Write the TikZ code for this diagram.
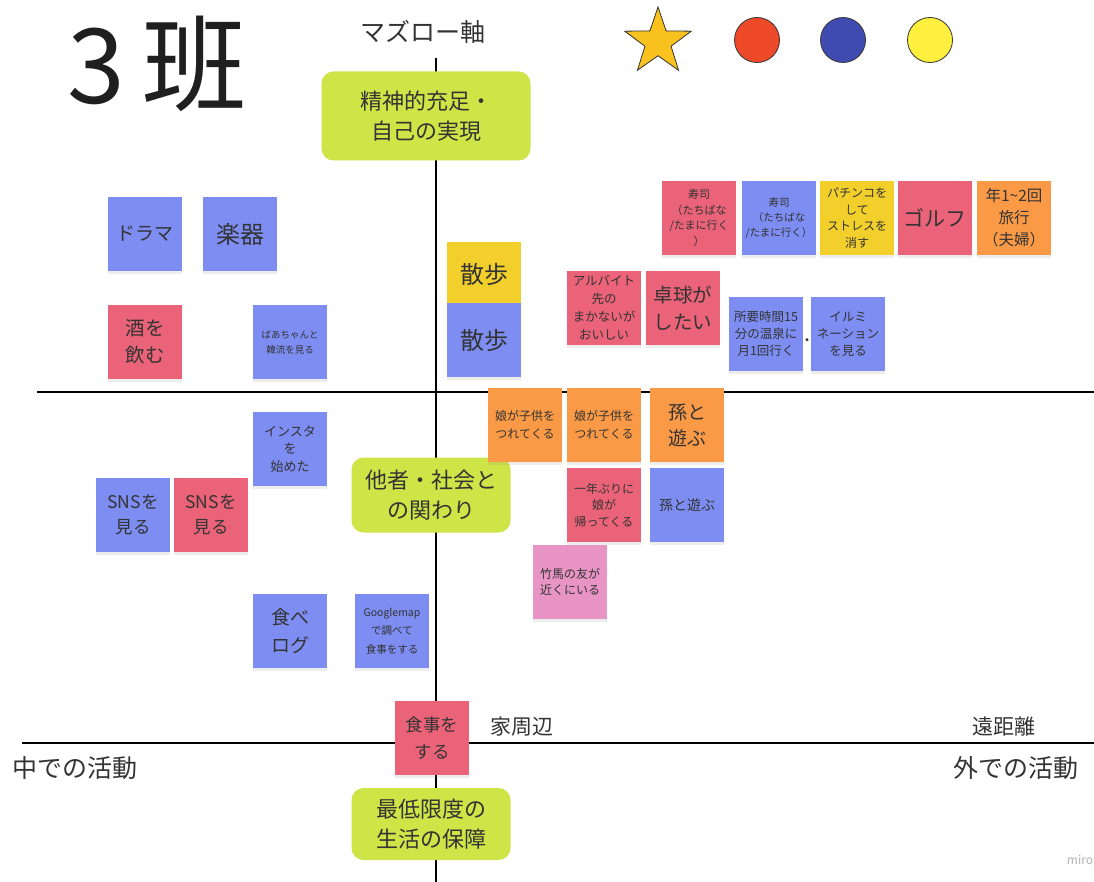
\documentclass[tikz,border=0pt]{standalone}
\usepackage{fontspec}
\setmainfont{Noto Sans CJK JP}
\usetikzlibrary{shapes.geometric,shadows}
\definecolor{sblue}{HTML}{7D8DF2}
\definecolor{sred}{HTML}{EA6379}
\definecolor{sorange}{HTML}{FA9A46}
\definecolor{syellow}{HTML}{F3CF2C}
\definecolor{spink}{HTML}{E895C5}
\definecolor{sgreen}{HTML}{CDE546}
\definecolor{txt}{HTML}{333333}
\definecolor{stargold}{HTML}{F9C21E}
\definecolor{dotred}{HTML}{EE4A2A}
\definecolor{dotblue}{HTML}{3F4BB0}
\definecolor{dotyellow}{HTML}{FFF03F}
\newcommand\fs[2]{\fontsize{#1}{#2}\selectfont}
\tikzset{
  sticky/.style={rectangle, minimum width=74pt, minimum height=74pt, inner sep=1pt,
    align=center, text=txt, drop shadow={opacity=0.14, shadow xshift=0pt, shadow yshift=-3pt}},
  greenbox/.style={rectangle, rounded corners=12pt, fill=sgreen, align=center, text=txt,
    inner sep=0pt, font=\fs{22}{30}},
  axis/.style={line width=1.4pt, black},
  label/.style={text=txt, inner sep=0pt}
}
\begin{document}
\begin{tikzpicture}[x=1pt,y=-1pt]
\useasboundingbox (0,0) rectangle (1094,882);
\fill[white] (0,0) rectangle (1094,882);
% axes
\coordinate (vt) at (436,58);
\coordinate (vb) at (436,882);
\coordinate (h1l) at (37,392);
\coordinate (h1r) at (1094,392);
\coordinate (h2l) at (22,743);
\coordinate (h2r) at (1094,743);
\draw[axis] (vt) -- (vb);
\draw[axis] (h1l) -- (h1r);
\draw[axis] (h2l) -- (h2r);
% title and labels
\node[label, font=\fs{104}{110}, text=black!88] (title) at (157,64) {3\,班};
\node[label, font=\fs{25}{28}] (maslow) at (423,32) {マズロー軸};
\node[label, font=\fs{25}{28}] (inner) at (75,768) {中での活動};
\node[label, font=\fs{25}{28}] (outer) at (1016,768) {外での活動};
\node[label, font=\fs{21}{24}] (near) at (522,727) {家周辺};
\node[label, font=\fs{21}{24}] (far) at (1004,727) {遠距離};
\node[label, font=\fs{12}{14}, text=black!30] (miro) at (1080,860) {miro};
% legend
\node[star, star points=5, star point ratio=2.55, minimum size=70pt, inner sep=0pt,
  fill=stargold, draw=black!80, line width=0.8pt] (star) at (658,42) {};
\node[circle, minimum size=45pt, inner sep=0pt, fill=dotred, draw=black!80, line width=0.8pt] (c1) at (757,40) {};
\node[circle, minimum size=45pt, inner sep=0pt, fill=dotblue, draw=black!80, line width=0.8pt] (c2) at (843,40) {};
\node[circle, minimum size=45pt, inner sep=0pt, fill=dotyellow, draw=black!80, line width=0.8pt] (c3) at (930,40) {};
% green boxes
\node[greenbox, minimum width=209pt, minimum height=89pt] (g1) at (426,116) {精神的充足・\\自己の実現};
\node[greenbox, minimum width=159pt, minimum height=75pt] (g2) at (431,495) {他者・社会と\\の関わり};
\node[greenbox, minimum width=159pt, minimum height=72pt] (g3) at (431,824) {最低限度の\\生活の保障};
% stickies upper-left
\node[sticky, fill=sblue, font=\fs{19}{22}] (drama) at (145,234) {ドラマ};
\node[sticky, fill=sblue, font=\fs{24}{26}] (gakki) at (240,234) {楽器};
\node[sticky, fill=sred, font=\fs{19.5}{27}] (sake) at (145,342) {酒を\\飲む};
\node[sticky, fill=sblue, font=\fs{9.5}{15}] (hanryu) at (290,342) {ばあちゃんと\\韓流を見る};
% sanpo
\node[sticky, fill=syellow, font=\fs{24}{26}, minimum height=64pt, anchor=north] (sanpo1) at (484,242) {散歩};
\node[sticky, fill=sblue, font=\fs{24}{26}] (sanpo2) at (484,340) {散歩};
% top right row
\node[sticky, fill=sred, font=\fs{11}{15.5}] (sushi1) at (699,218) {寿司\\（たちばな\\/たまに行く\\）};
\node[sticky, fill=sblue, font=\fs{10.5}{15}] (sushi2) at (779,218) {寿司\\（たちばな\\/たまに行く）};
\node[sticky, fill=syellow, font=\fs{12}{16.5}] (pachinko) at (857,218) {パチンコを\\して\\ストレスを\\消す};
\node[sticky, fill=sred, font=\fs{21}{24}] (golf) at (935,218) {ゴルフ};
\node[sticky, fill=sorange, font=\fs{15.5}{22}] (ryoko) at (1014,218) {年1\textasciitilde2回\\旅行\\（夫婦）};
\node[sticky, fill=sred, font=\fs{12.5}{18}] (baito) at (604,308) {アルバイト\\先の\\まかないが\\おいしい};
\node[sticky, fill=sred, font=\fs{19.5}{27}] (takkyu) at (683,308) {卓球が\\したい};
\node[sticky, fill=sblue, font=\fs{12.5}{17}] (onsen) at (766,334) {所要時間15\\分の温泉に\\月1回行く};
\node[label, font=\fs{14}{16}] (dot) at (807,342) {・};
\node[sticky, fill=sblue, font=\fs{12.5}{17}] (illumi) at (848,334) {イルミ\\ネーション\\を見る};
% middle
\node[sticky, fill=sorange, font=\fs{12}{18}] (musume1) at (525,425) {娘が子供を\\つれてくる};
\node[sticky, fill=sorange, font=\fs{12}{18}] (musume2) at (604,425) {娘が子供を\\つれてくる};
\node[sticky, fill=sorange, font=\fs{19}{26}] (mago1) at (687,425) {孫と\\遊ぶ};
\node[sticky, fill=sred, font=\fs{12}{16.5}] (ichinen) at (604,505) {一年ぶりに\\娘が\\帰ってくる};
\node[sticky, fill=sblue, font=\fs{14}{18}] (mago2) at (687,505) {孫と遊ぶ};
\node[sticky, fill=spink, font=\fs{12}{16.5}] (chikuba) at (570,582) {竹馬の友が\\近くにいる};
% left middle
\node[sticky, fill=sblue, font=\fs{13}{17.5}] (insta) at (290,449) {インスタ\\を\\始めた};
\node[sticky, fill=sblue, font=\fs{17.5}{25}] (sns1) at (133,515) {SNSを\\見る};
\node[sticky, fill=sred, font=\fs{17.5}{25}] (sns2) at (211,515) {SNSを\\見る};
\node[sticky, fill=sblue, font=\fs{19}{28}] (tabelog) at (290,631) {食べ\\ログ};
\node[sticky, fill=sblue, font=\fs{10.5}{18.5}] (gmap) at (392,631) {Googlemap\\で調べて\\食事をする};
\node[sticky, fill=sred, font=\fs{17.5}{27}] (shokuji) at (432,738) {食事を\\する};
\end{tikzpicture}
\end{document}
